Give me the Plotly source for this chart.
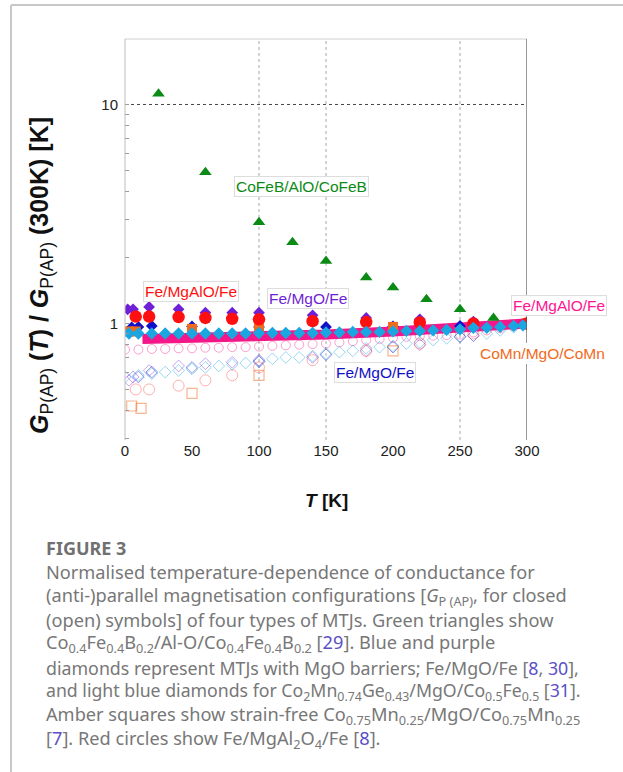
import plotly.graph_objects as go

W, H = 623, 772
PL, PR, PT, PB = 125, 527, 39, 440  # plot area in pixels


def px(x):
    return (x - PL) / (PR - PL)


def py(y):
    return (PB - y) / (PB - PT)


# ---------------- data ----------------
# CoFeB/AlO/CoFeB (P, closed green triangles)
cofeb_T = [25, 60, 100, 125, 150, 180, 200, 225, 250, 275, 300]
cofeb_G = [11.2, 4.9, 2.9, 2.35, 1.93, 1.62, 1.46, 1.29, 1.16, 1.06, 1.0]

# Fe/MgO/Fe purple closed diamonds
femgo_p_T = [2, 6, 18, 40, 60, 80, 100, 140, 180, 220, 260, 300]
femgo_p_G = [1.16, 1.16, 1.19, 1.16, 1.12, 1.12, 1.12, 1.09, 1.06, 1.045, 1.02, 1.0]

# Fe/MgAl2O4/Fe red closed circles
femgalo_T = [8, 18, 40, 60, 80, 100, 140, 180, 220, 260, 300]
femgalo_G = [1.075, 1.075, 1.07, 1.06, 1.05, 1.045, 1.025, 1.015, 1.01, 1.0, 1.0]

# CoMn/MgO/CoMn amber closed squares
comn_T = [3, 8, 50, 100, 200, 300]
comn_G = [0.92, 0.92, 0.945, 0.95, 0.965, 1.0]

# Fe/MgO/Fe blue closed diamonds
femgo_b_T = [5, 10, 20, 50, 100, 150, 200, 250, 300]
femgo_b_G = [0.96, 0.965, 0.975, 0.97, 0.965, 0.965, 0.97, 0.975, 1.0]

# Co2MnGe/MgO/CoFe light blue closed diamonds
cmg_T = [3, 10, 20, 30, 40, 50, 60, 70, 80, 90, 100, 110, 120, 130, 140, 150,
         160, 170, 180, 190, 200, 210, 220, 230, 240, 250, 260, 270, 280, 290, 297]
cmg_G = [0.90, 0.90, 0.90, 0.90, 0.90, 0.90, 0.90, 0.90, 0.90, 0.90, 0.905, 0.905,
         0.905, 0.905, 0.905, 0.91, 0.91, 0.915, 0.915, 0.915, 0.92, 0.925, 0.925,
         0.93, 0.935, 0.94, 0.955, 0.955, 0.965, 0.975, 0.98]

# Fe/MgAlO/Fe pink dense band (closed)
band_T = [13, 50, 100, 150, 200, 250, 300]
band_G = [0.85, 0.855, 0.87, 0.89, 0.92, 0.955, 1.0]

# ---- open symbols (AP) ----
band_ap_T = [0, 10, 20, 30, 40, 50, 60, 70, 80, 90, 100, 110, 120, 130, 140, 150,
             160, 170, 180, 190, 200, 210, 220, 230, 240, 250, 260, 270, 280, 290, 300]
band_ap_G = [0.76, 0.76, 0.765, 0.765, 0.77, 0.77, 0.775, 0.775, 0.78, 0.78, 0.785,
             0.79, 0.795, 0.80, 0.805, 0.81, 0.82, 0.83, 0.84, 0.85, 0.86, 0.87,
             0.875, 0.88, 0.885, 0.89, 0.91, 0.93, 0.95, 0.97, 1.0]

cmg_ap_T = band_ap_T
cmg_ap_G = [0.57, 0.58, 0.59, 0.60, 0.61, 0.62, 0.63, 0.64, 0.65, 0.66, 0.67, 0.69,
            0.70, 0.70, 0.71, 0.73, 0.74, 0.75, 0.77, 0.78, 0.79, 0.81, 0.82, 0.84,
            0.855, 0.87, 0.88, 0.90, 0.93, 0.96, 1.0]

femgo_p_ap_T = [3, 6, 18, 40, 60, 80, 100, 140, 180, 220, 260, 300]
femgo_p_ap_G = [0.55, 0.57, 0.61, 0.64, 0.655, 0.665, 0.68, 0.70, 0.75, 0.80, 0.88, 1.0]

femgo_b_ap_T = [10, 20, 50, 100, 150, 200, 250, 300]
femgo_b_ap_G = [0.57, 0.60, 0.63, 0.67, 0.72, 0.78, 0.87, 1.0]

femgalo_ap_T = [8, 18, 40, 60, 80, 100, 140, 180, 220, 260, 300]
femgalo_ap_G = [0.50, 0.50, 0.52, 0.55, 0.58, 0.63, 0.68, 0.75, 0.81, 0.90, 1.0]

comn_ap_T = [5, 12, 50, 100, 200, 300]
comn_ap_G = [0.42, 0.41, 0.48, 0.58, 0.75, 1.0]

x_ticks = [0, 50, 100, 150, 200, 250, 300]
y_major = [1, 10]
y_minor = [0.3, 0.4, 0.5, 0.6, 0.7, 0.8, 0.9, 2, 3, 4, 5, 6, 7, 8, 9]
x_grid = [100, 150, 250]

# ---------------- colours ----------------
GREEN = "#0b8a16"
PURPLE = "#6f1fd6"
RED = "#ff1010"
ORANGE = "#f26a1b"
BLUE = "#1010c8"
LBLUE = "#1aa6e0"
PINK = "#f5168a"

fig = go.Figure()

# open symbols first (faint)
fig.add_trace(go.Scatter(x=band_ap_T, y=band_ap_G, mode="markers",
                         marker=dict(symbol="circle-open", size=9, color="rgba(245,22,138,0.4)",
                                     line=dict(width=1))))
fig.add_trace(go.Scatter(x=cmg_ap_T, y=cmg_ap_G, mode="markers",
                         marker=dict(symbol="diamond-open", size=9, color="rgba(26,166,224,0.45)",
                                     line=dict(width=1))))
fig.add_trace(go.Scatter(x=femgo_p_ap_T, y=femgo_p_ap_G, mode="markers",
                         marker=dict(symbol="diamond-open", size=9, color="rgba(111,31,214,0.4)",
                                     line=dict(width=1))))
fig.add_trace(go.Scatter(x=femgo_b_ap_T, y=femgo_b_ap_G, mode="markers",
                         marker=dict(symbol="diamond-open", size=9, color="rgba(16,16,200,0.45)",
                                     line=dict(width=1))))
fig.add_trace(go.Scatter(x=femgalo_ap_T, y=femgalo_ap_G, mode="markers",
                         marker=dict(symbol="circle-open", size=11, color="rgba(255,60,60,0.4)",
                                     line=dict(width=1))))
fig.add_trace(go.Scatter(x=comn_ap_T, y=comn_ap_G, mode="markers",
                         marker=dict(symbol="square-open", size=10, color="rgba(242,106,27,0.5)",
                                     line=dict(width=1.2))))

# closed symbols
fig.add_trace(go.Scatter(x=band_T, y=band_G, mode="lines",
                         line=dict(color=PINK, width=10)))
fig.add_trace(go.Scatter(x=cofeb_T, y=cofeb_G, mode="markers",
                         marker=dict(symbol="triangle-up", size=11, color=GREEN)))
fig.add_trace(go.Scatter(x=femgo_b_T, y=femgo_b_G, mode="markers",
                         marker=dict(symbol="diamond", size=9, color=BLUE)))
fig.add_trace(go.Scatter(x=femgo_p_T, y=femgo_p_G, mode="markers",
                         marker=dict(symbol="diamond", size=9, color=PURPLE)))
fig.add_trace(go.Scatter(x=comn_T, y=comn_G, mode="markers",
                         marker=dict(symbol="square", size=10, color=ORANGE)))
fig.add_trace(go.Scatter(x=femgalo_T, y=femgalo_G, mode="markers",
                         marker=dict(symbol="circle", size=12.5, color=RED)))
fig.add_trace(go.Scatter(x=cmg_T, y=cmg_G, mode="markers",
                         marker=dict(symbol="diamond", size=9.5, color=LBLUE)))

shapes = []
# plot frame
shapes.append(dict(type="line", xref="paper", yref="paper", x0=0, x1=1, y0=1, y1=1,
                   line=dict(color="#cfcfcf", width=1)))
shapes.append(dict(type="line", xref="paper", yref="paper", x0=0, x1=0, y0=0, y1=1,
                   line=dict(color="#bdbdbd", width=1)))
shapes.append(dict(type="line", xref="x", yref="paper", x0=300, x1=300, y0=0, y1=1,
                   line=dict(color="#555555", width=1.2)))
for g in x_grid:
    shapes.append(dict(type="line", xref="x", yref="paper", x0=g, x1=g, y0=0, y1=1,
                       line=dict(color="#a8a8a8", width=1, dash="dot"), layer="below"))
shapes.append(dict(type="line", xref="paper", yref="y", x0=0, x1=1, y0=10, y1=10,
                   line=dict(color="#444444", width=1, dash="dot"), layer="below"))
# outer figure frame
shapes.append(dict(type="line", xref="paper", yref="paper", x0=px(11), x1=px(623),
                   y0=py(5), y1=py(5), line=dict(color="#c8c8c8", width=2)))
shapes.append(dict(type="line", xref="paper", yref="paper", x0=px(11), x1=px(11),
                   y0=py(5), y1=py(772), line=dict(color="#c8c8c8", width=2)))

ann = []
LBL_FONT = "Liberation Sans, Arial, sans-serif"


def label(text, cx, cy, color, border=True):
    ann.append(dict(text=text, x=px(cx), y=py(cy), xref="paper", yref="paper",
                    showarrow=False, xanchor="center", yanchor="middle",
                    font=dict(family=LBL_FONT, size=15.5, color=color),
                    bgcolor="white", bordercolor="#dddddd" if border else "white",
                    borderwidth=1, borderpad=1))


label("CoFeB/AlO/CoFeB", 301, 186, GREEN)
label("Fe/MgAlO/Fe", 191, 291, RED)
label("Fe/MgO/Fe", 308, 298, PURPLE)
label("Fe/MgAlO/Fe", 559, 305, "#ff1493")
label("CoMn/MgO/CoMn", 542, 353, ORANGE, border=False)
label("Fe/MgO/Fe", 375, 372, BLUE)

# axis titles
ann.append(dict(text="<b><i>T</i> [K]</b>", x=px(326), y=py(500), xref="paper", yref="paper",
                showarrow=False, xanchor="center", yanchor="middle",
                font=dict(family=LBL_FONT, size=19, color="#111111")))
ann.append(dict(text="<b><i>G</i></b><sub>P(AP)</sub><b> (<i>T</i>) / <i>G</i></b><sub>P(AP)</sub><b> (300K) [K]</b>",
                x=px(41), y=py(276), xref="paper", yref="paper", textangle=-90,
                showarrow=False, xanchor="center", yanchor="middle",
                font=dict(family=LBL_FONT, size=25, color="#111111")))

# caption
CAP_FONT = "Noto Sans, Open Sans, sans-serif"
CAP_COL = "#777777"
LINK = "#5a50c8"


def lk(t):
    return f"<span style='color:{LINK}'>{t}</span>"


ann.append(dict(text="<b>FIGURE 3</b>", x=px(44), y=py(548), xref="paper", yref="paper",
                showarrow=False, xanchor="left", yanchor="middle",
                font=dict(family=CAP_FONT, size=18, color="#707070")))
cap_lines = [
    "Normalised temperature-dependence of conductance for",
    "(anti-)parallel magnetisation configurations [<i>G</i><sub>P (AP)</sub>, for closed",
    "(open) symbols] of four types of MTJs. Green triangles show",
    "Co<sub>0.4</sub>Fe<sub>0.4</sub>B<sub>0.2</sub>/Al-O/Co<sub>0.4</sub>Fe<sub>0.4</sub>B<sub>0.2</sub> [" + lk("29") + "]. Blue and purple",
    "diamonds represent MTJs with MgO barriers; Fe/MgO/Fe [" + lk("8") + ", " + lk("30") + "],",
    "and light blue diamonds for Co<sub>2</sub>Mn<sub>0.74</sub>Ge<sub>0.43</sub>/MgO/Co<sub>0.5</sub>Fe<sub>0.5</sub> [" + lk("31") + "].",
    "Amber squares show strain-free Co<sub>0.75</sub>Mn<sub>0.25</sub>/MgO/Co<sub>0.75</sub>Mn<sub>0.25</sub>",
    "[" + lk("7") + "]. Red circles show Fe/MgAl<sub>2</sub>O<sub>4</sub>/Fe [" + lk("8") + "].",
]
cap_y = [572, 596, 620, 644, 668, 691, 715, 739]
cap_size = [18.2, 18.2, 18.2, 18.2, 17.8, 17.7, 18.2, 18.2]
for t, yy, sz in zip(cap_lines, cap_y, cap_size):
    ann.append(dict(text=t, x=px(44), y=py(yy), xref="paper", yref="paper",
                    showarrow=False, xanchor="left", yanchor="middle",
                    font=dict(family=CAP_FONT, size=sz, color=CAP_COL)))

yvals = sorted(y_minor + y_major)
ytext = [str(v) if v in y_major else "" for v in yvals]

fig.update_layout(
    width=W, height=H,
    margin=dict(l=PL, r=W - PR, t=PT, b=H - PB, pad=0),
    paper_bgcolor="white", plot_bgcolor="white",
    showlegend=False,
    shapes=shapes, annotations=ann,
    xaxis=dict(range=[0, 300], tickvals=x_ticks, ticks="", showgrid=False, zeroline=False,
               showline=False, tickfont=dict(family=LBL_FONT, size=15, color="#222222")),
    yaxis=dict(type="log", range=[-0.532, 1.299], tickvals=yvals, ticktext=ytext,
               ticks="inside", ticklen=4, tickcolor="#9a9a9a", showgrid=False,
               zeroline=False, showline=False, ticklabelstandoff=6,
               tickfont=dict(family=LBL_FONT, size=15, color="#222222")),
)

fig.write_html("out.html")
